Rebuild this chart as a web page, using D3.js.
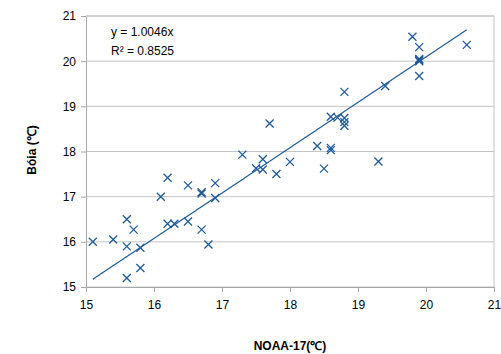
<!DOCTYPE html>
<html>
<head>
<meta charset="utf-8">
<script src="https://cdn.jsdelivr.net/npm/d3@7"></script>
<style>
  body { margin: 0; background: #fff; }
  text { font-family: "Liberation Sans", Arial, sans-serif; }
</style>
</head>
<body>
<svg id="chart" width="501" height="354"></svg>
<script>
// NOAA-17 vs buoy temperatures
const noaa = [15.1, 15.4, 15.6, 15.7, 15.6, 15.8, 15.6, 15.8, 16.1, 16.2, 16.2, 16.3,
  16.5, 16.5, 16.7, 16.7, 16.7, 16.8, 16.9, 16.9, 17.3, 17.5, 17.6, 17.6, 17.8, 18.0,
  17.7, 18.4, 18.6, 18.6, 18.5, 19.3, 18.6, 18.7, 18.8, 18.8, 18.8, 18.8, 19.4,
  19.8, 19.9, 19.9, 19.9, 19.9, 19.9, 20.6];
const boia = [16.0, 16.05, 16.5, 16.27, 15.9, 15.87, 15.2, 15.42, 17.0, 17.42, 16.4, 16.4,
  17.25, 16.45, 17.1, 17.07, 16.27, 15.94, 17.3, 16.97, 17.93, 17.63, 17.83, 17.6, 17.5, 17.77,
  18.62, 18.12, 18.08, 18.03, 17.62, 17.78, 18.77, 18.75, 18.74, 18.65, 18.57, 19.32, 19.45,
  20.54, 20.31, 20.05, 20.0, 20.03, 19.67, 20.36];
const slope = 1.0046;
const xTicks = [15, 16, 17, 18, 19, 20, 21];
const yTicks = [15, 16, 17, 18, 19, 20, 21];

const svg = d3.select('#chart');
const plotL = 86, plotR = 494, plotT = 16, plotB = 287;

const x = d3.scaleLinear().domain([15, 21]).range([plotL, plotR]);
const y = d3.scaleLinear().domain([15, 21]).range([plotB, plotT]);

// gridlines
svg.append('g')
  .selectAll('line')
  .data(yTicks)
  .join('line')
  .attr('x1', plotL).attr('x2', plotR)
  .attr('y1', (d) => y(d)).attr('y2', (d) => y(d))
  .attr('stroke', '#c4c4c4');

// plot frame (top/right)
svg.append('path')
  .attr('d', `M${plotL},${plotT}H${plotR}V${plotB}`)
  .attr('fill', 'none')
  .attr('stroke', '#c4c4c4');

const xAxis = svg.append('g')
  .attr('transform', `translate(0,${plotB})`)
  .call(d3.axisBottom(x).tickValues(xTicks).tickFormat(d3.format('d'))
    .tickSize(5).tickSizeOuter(0).tickPadding(8));
const yAxis = svg.append('g')
  .attr('transform', `translate(${plotL},0)`)
  .call(d3.axisLeft(y).tickValues(yTicks).tickFormat(d3.format('d'))
    .tickSize(5).tickSizeOuter(0).tickPadding(5));

[xAxis, yAxis].forEach((a) => {
  a.select('.domain').attr('stroke', '#a8a8a8');
  a.selectAll('.tick line').attr('stroke', '#a8a8a8');
  a.selectAll('.tick text').attr('fill', '#000').style('font-size', '12px')
    .style('font-family', '"Liberation Sans", Arial, sans-serif');
});

// trend line y = slope * x
const xMin = d3.min(noaa), xMax = d3.max(noaa);
svg.append('line')
  .attr('x1', x(xMin)).attr('y1', y(slope * xMin))
  .attr('x2', x(xMax)).attr('y2', y(slope * xMax))
  .attr('stroke', '#1f5a99')
  .attr('stroke-width', 1.2);

// x markers
const s = 4;
svg.append('g')
  .selectAll('path')
  .data(noaa.map((d, i) => [d, boia[i]]))
  .join('path')
  .attr('d', (d) => {
    const cx = x(d[0]), cy = y(d[1]);
    return `M${cx - s},${cy - s}L${cx + s},${cy + s}M${cx - s},${cy + s}L${cx + s},${cy - s}`;
  })
  .attr('stroke', '#1f5a99')
  .attr('stroke-width', 1.3)
  .attr('fill', 'none');

// equation
svg.append('text').attr('x', 111).attr('y', 36).style('font-size', '12px').text('y = 1.0046x');
svg.append('text').attr('x', 111).attr('y', 55).style('font-size', '12px').text('R² = 0.8525');

// axis titles
svg.append('text')
  .attr('x', 290).attr('y', 350)
  .attr('text-anchor', 'middle')
  .style('font-size', '12px').style('font-weight', 'bold')
  .text('NOAA-17(℃)');
svg.append('text')
  .attr('transform', 'translate(36,150) rotate(-90)')
  .attr('text-anchor', 'middle')
  .style('font-size', '12px').style('font-weight', 'bold')
  .text('Bóia (℃)');
</script>
</body>
</html>
